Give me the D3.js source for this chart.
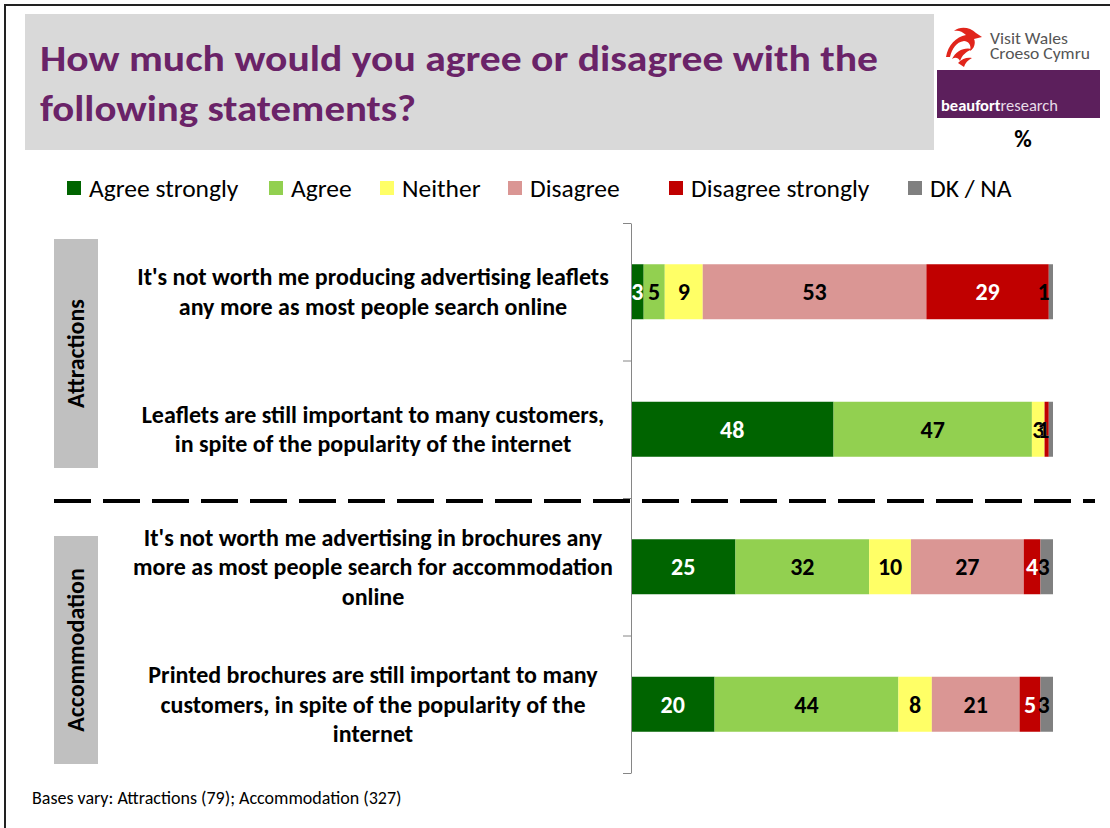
<!DOCTYPE html>
<html>
<head>
<meta charset="utf-8">
<script src="https://cdn.jsdelivr.net/npm/d3@7"></script>
<style>
  html, body { margin: 0; padding: 0; background: #fff; }
  svg { display: block; font-family: Carlito, Calibri, Lato, sans-serif; }
</style>
</head>
<body>
<svg id="chart" width="1110" height="828"></svg>
<script>
// Statements (line breaks mark how each label wraps)
const statements = [
  "It's not worth me producing advertising leaflets\nany more as most people search online",
  "Leaflets are still important to many customers,\nin spite of the popularity of the internet",
  "It's not worth me advertising in brochures any\nmore as most people search for accommodation\nonline",
  "Printed brochures are still important to many\ncustomers, in spite of the popularity of the\ninternet"
];
const groupNames = ["Attractions", "Accommodation"];

const seriesNames = ["Agree strongly", "Agree", "Neither", "Disagree", "Disagree strongly", "DK / NA"];
const agreeStrongly    = [3, 48, 25, 20];
const agree            = [5, 47, 32, 44];
const neither          = [9, 3, 10, 8];
const disagree         = [53, 0, 27, 21];
const disagreeStrongly = [29, 1, 4, 5];
const dkNa             = [1, 1, 3, 3];

const titleLines = ["How much would you agree or disagree with the", "following statements?"];
const footnote = "Bases vary: Attractions (79); Accommodation (327)";

const seriesColors = ["#006400", "#92d050", "#ffff66", "#da9694", "#c00000", "#808080"];
const labelColors  = ["#ffffff", "#000000", "#000000", "#000000", "#ffffff", "#000000"];

const seriesValues = [agreeStrongly, agree, neither, disagree, disagreeStrongly, dkNa];
const rows = statements.map((s, i) => {
  const r = { statement: s };
  seriesNames.forEach((n, k) => { r[n] = seriesValues[k][i]; });
  return r;
});

const svg = d3.select("#chart");

// Frame
svg.append("rect").attr("x", 5).attr("y", 5).attr("width", 1110).attr("height", 830)
  .attr("fill", "none").attr("stroke", "#222").attr("stroke-width", 2);

// Title banner
svg.append("rect").attr("x", 25).attr("y", 14).attr("width", 909).attr("height", 136).attr("fill", "#d9d9d9");
const title = svg.append("text").attr("fill", "#6a2368").attr("font-weight", "bold").attr("font-size", 37);
title.append("tspan").attr("x", 40).attr("y", 71).attr("textLength", 838).attr("lengthAdjust", "spacingAndGlyphs").text(titleLines[0]);
title.append("tspan").attr("x", 40).attr("y", 121).attr("textLength", 376).attr("lengthAdjust", "spacingAndGlyphs").text(titleLines[1]);

// Visit Wales mark
const vw = svg.append("g").attr("transform", "translate(944,27)");
vw.append("path").attr("fill", "#e1251b")
  .attr("d", "M2,30 C4,18 12,10 22,8 C18,4 14,3 10,4 C16,-1 26,0 32,6 L38,10 L30,12 C32,16 30,22 26,24 C28,18 24,14 20,14 C12,15 8,22 6,30 Z");
vw.append("path").attr("fill", "#e1251b")
  .attr("d", "M8,32 C12,24 20,20 28,22 C22,25 18,28 16,34 C14,30 11,30 8,32 Z");
vw.append("path").attr("fill", "#e1251b")
  .attr("d", "M14,36 C18,31 24,30 28,31 C24,33 21,36 20,40 Z");
svg.append("text").attr("x", 990).attr("y", 44).attr("font-size", 15.5).attr("fill", "#555")
  .attr("textLength", 78).attr("lengthAdjust", "spacingAndGlyphs").text("Visit Wales");
svg.append("text").attr("x", 990).attr("y", 59).attr("font-size", 15.5).attr("fill", "#555")
  .attr("textLength", 100).attr("lengthAdjust", "spacingAndGlyphs").text("Croeso Cymru");

// beaufort research mark
svg.append("rect").attr("x", 937).attr("y", 70).attr("width", 163).attr("height", 48).attr("fill", "#5c1f5c");
const br = svg.append("text").attr("x", 941).attr("y", 111).attr("font-size", 16).attr("fill", "#fff")
  .attr("textLength", 117).attr("lengthAdjust", "spacingAndGlyphs");
br.append("tspan").attr("font-weight", "bold").text("beaufort");
br.append("tspan").attr("fill", "#e8dce8").text("research");
svg.append("text").attr("x", 1023).attr("y", 147).attr("text-anchor", "middle")
  .attr("font-size", 24).attr("font-weight", "bold").text("%");

// Legend
const legendX = [67, 269, 380, 508, 669, 908];
const legend = svg.append("g");
seriesNames.forEach((n, k) => {
  legend.append("rect").attr("x", legendX[k]).attr("y", 181).attr("width", 14).attr("height", 14).attr("fill", seriesColors[k]);
  legend.append("text").attr("x", legendX[k] + 22).attr("y", 197).attr("font-size", 25.5).attr("fill", "#000").text(n);
});

// Scales
const x = d3.scaleLinear().domain([0, 1]).range([631, 1053]);
const y = d3.scaleBand().domain(d3.range(statements.length)).range([223, 773])
  .paddingInner(0.6).paddingOuter(0.3);

const stack = d3.stack().keys(seriesNames).offset(d3.stackOffsetExpand);
const layers = stack(rows);

// Bars
const barG = svg.append("g");
layers.forEach((layer, k) => {
  barG.selectAll(null).data(layer).join("rect")
    .attr("x", d => x(d[0]))
    .attr("y", (d, i) => y(i))
    .attr("width", d => x(d[1]) - x(d[0]))
    .attr("height", y.bandwidth())
    .attr("fill", seriesColors[k]);
});

// Value labels (kept inside the plot's right edge)
const labelG = svg.append("g").attr("font-weight", "bold").attr("font-size", 24).attr("text-anchor", "middle");
layers.forEach((layer, k) => {
  layer.forEach((d, i) => {
    const v = rows[i][seriesNames[k]];
    if (!v) return;
    const txt = String(v);
    const halfW = txt.length * 6.5;
    const cx = Math.min((x(d[0]) + x(d[1])) / 2, x(1) - halfW - 3);
    labelG.append("text").attr("x", cx).attr("y", y(i) + y.bandwidth() / 2).attr("dy", "0.36em")
      .attr("fill", labelColors[k]).text(txt);
  });
});

// Category axis: line with ticks at the band boundaries
const edges = d3.scaleLinear().domain([0, statements.length]).range([223, 773]);
svg.append("g").attr("transform", "translate(631,0)")
  .call(d3.axisLeft(edges).ticks(statements.length).tickSize(8).tickSizeOuter(0).tickFormat(""))
  .call(g => g.selectAll("path, line").attr("stroke", "#868686"));

// Statement labels
const catG = svg.append("g").attr("font-weight", "bold").attr("font-size", 24).attr("text-anchor", "middle").attr("fill", "#000");
statements.forEach((s, i) => {
  const lines = s.split("\n");
  const c = y(i) + y.bandwidth() / 2;
  lines.forEach((ln, j) => {
    catG.append("text").attr("x", 373).attr("y", c + (j - (lines.length - 1) / 2) * 29.5).attr("dy", "0.35em").text(ln);
  });
});

// Group tabs
groupNames.forEach((g, gi) => {
  const top = gi === 0 ? 239 : 536;
  const bottom = gi === 0 ? 468 : 764;
  svg.append("rect").attr("x", 54).attr("y", top).attr("width", 44).attr("height", bottom - top).attr("fill", "#c0c0c0");
  const cy = (top + bottom) / 2;
  svg.append("text").attr("transform", `translate(84,${cy}) rotate(-90)`).attr("text-anchor", "middle")
    .attr("font-weight", "bold").attr("font-size", 24).attr("fill", "#000").text(g);
});

// Divider between the two groups
svg.append("line").attr("x1", 54).attr("x2", 1095).attr("y1", 501).attr("y2", 501)
  .attr("stroke", "#000").attr("stroke-width", 4).attr("stroke-dasharray", "37,12");

// Footnote
svg.append("text").attr("x", 32).attr("y", 804).attr("font-size", 18).attr("fill", "#000").text(footnote);
</script>
</body>
</html>
